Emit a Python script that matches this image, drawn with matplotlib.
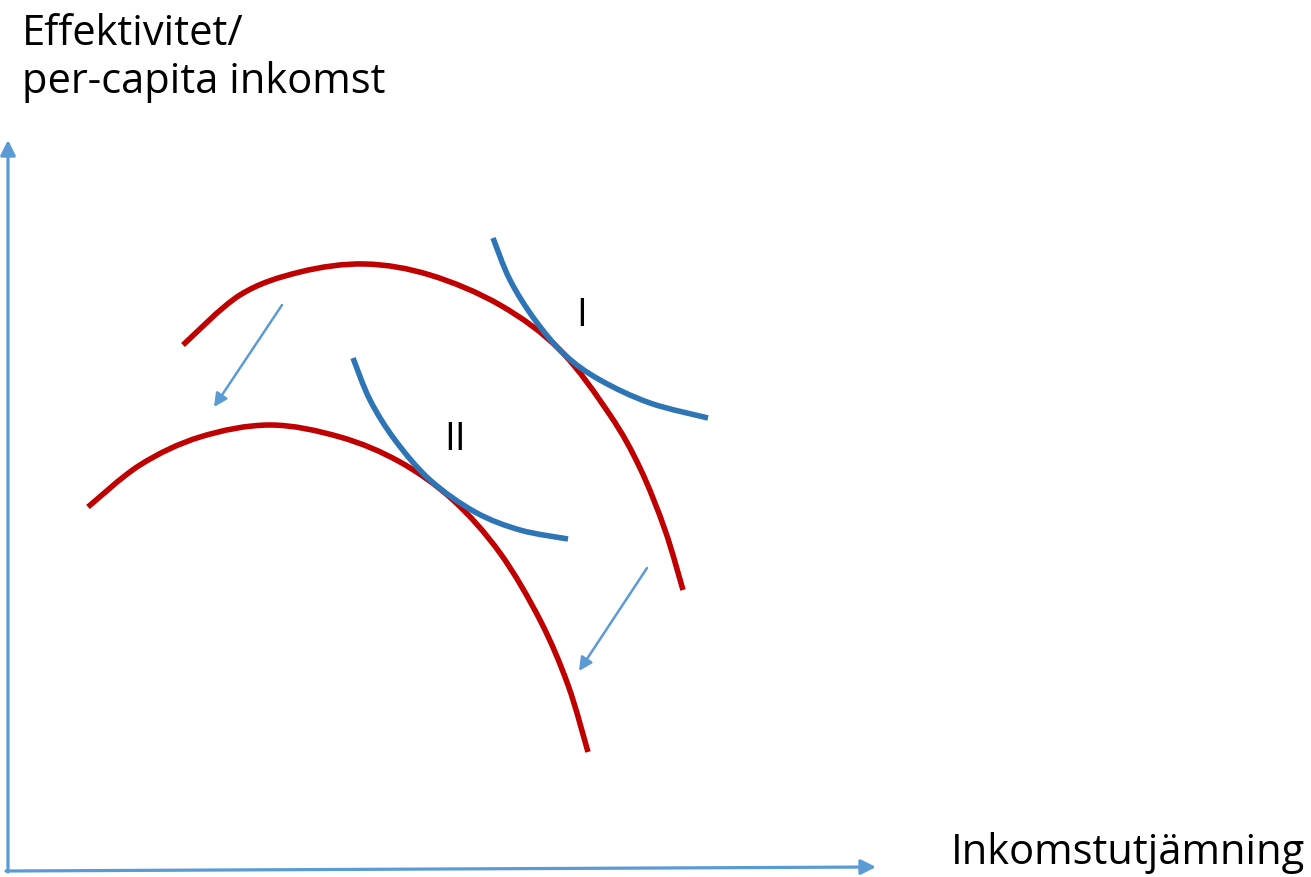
import matplotlib.pyplot as plt
from matplotlib.path import Path
from matplotlib.patches import PathPatch

# pixel coordinates (y grows downward)
red_top_x = [183, 240, 300, 365, 430, 500, 560, 610, 640, 665, 683]
red_top_y = [345, 295, 272, 264, 275, 305, 350, 415, 468, 530, 590]

red_low_x = [88, 140, 200, 270, 340, 400, 453, 500, 540, 568, 588]
red_low_y = [507, 465, 437, 425, 437, 462, 500, 553, 620, 685, 752]

blue_i_x = [493, 510, 535, 565, 600, 650, 708]
blue_i_y = [238, 280, 320, 355, 380, 403, 418]

blue_ii_x = [353, 370, 395, 430, 475, 520, 568]
blue_ii_y = [358, 400, 440, 480, 512, 530, 539]

# shift arrows (start -> end)
arrows = [((282, 305), (214, 407)), ((647, 568), (579, 671))]

labels = [("I", 582, 316), ("II", 455, 440)]

W, H = 1311, 877
fig = plt.figure(figsize=(W / 100, H / 100), dpi=100)
ax = fig.add_axes([0, 0, 1, 1])
ax.set_xlim(0, W)
ax.set_ylim(H, 0)
ax.axis('off')

font = ['Open Sans', 'DejaVu Sans']
axis_col = '#5B9BD5'


def smooth_curve(xs, ys, color):
    # cubic bezier path passing through the read points (catmull-rom tangents)
    pts = list(zip(xs, ys))
    n = len(pts)
    verts = [pts[0]]
    codes = [Path.MOVETO]
    for i in range(n - 1):
        p0 = pts[max(i - 1, 0)]
        p1 = pts[i]
        p2 = pts[i + 1]
        p3 = pts[min(i + 2, n - 1)]
        c1 = (p1[0] + (p2[0] - p0[0]) / 6, p1[1] + (p2[1] - p0[1]) / 6)
        c2 = (p2[0] - (p3[0] - p1[0]) / 6, p2[1] - (p3[1] - p1[1]) / 6)
        verts += [c1, c2, p2]
        codes += [Path.CURVE4] * 3
    patch = PathPatch(Path(verts, codes), facecolor='none', edgecolor=color,
                      lw=4.0, capstyle='butt')
    ax.add_patch(patch)


# axes drawn as arrows
ax.annotate('', xy=(8, 140), xytext=(8, 872),
            arrowprops=dict(arrowstyle='-|>,head_length=0.9,head_width=0.45',
                            color=axis_col, lw=2.3, shrinkA=0, shrinkB=0))
ax.annotate('', xy=(876, 867), xytext=(6, 871),
            arrowprops=dict(arrowstyle='-|>,head_length=0.9,head_width=0.45',
                            color=axis_col, lw=2.3, shrinkA=0, shrinkB=0))

smooth_curve(red_top_x, red_top_y, '#C00000')
smooth_curve(red_low_x, red_low_y, '#C00000')
smooth_curve(blue_i_x, blue_i_y, '#2E75B6')
smooth_curve(blue_ii_x, blue_ii_y, '#2E75B6')

for (x0, y0), (x1, y1) in arrows:
    ax.annotate('', xy=(x1, y1), xytext=(x0, y0),
                arrowprops=dict(arrowstyle='-|>,head_length=0.8,head_width=0.4',
                                color=axis_col, lw=1.8, shrinkA=0, shrinkB=0))

for txt, x, y in labels:
    ax.text(x, y, txt, fontsize=28, family=font, ha='center', va='center')

ax.text(22, 58, 'Effektivitet/\nper-capita inkomst', fontsize=30, family=font,
        ha='left', va='center', linespacing=1.2)
ax.text(1305, 853, 'Inkomstutjämning', fontsize=30, family=font, ha='right', va='center')

fig.savefig('out.png', dpi=100)
